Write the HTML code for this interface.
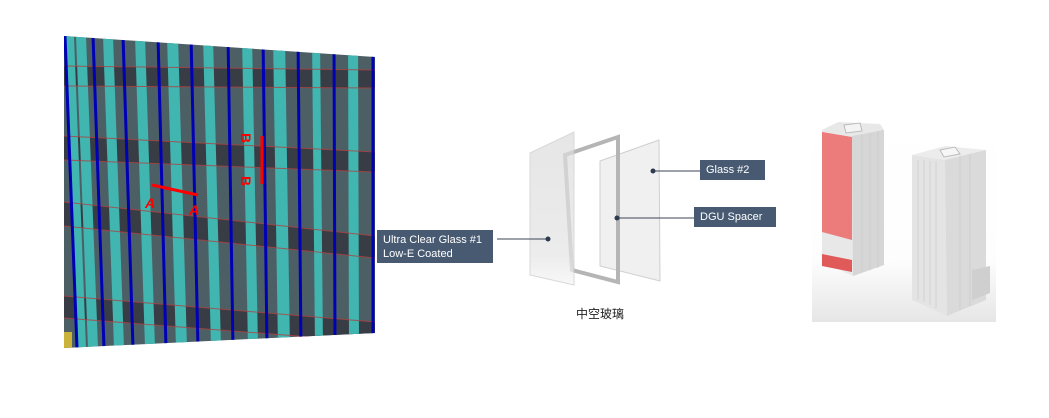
<!DOCTYPE html>
<html><head><meta charset="utf-8"><style>
html,body{margin:0;padding:0;background:#fff;width:1049px;height:418px;overflow:hidden}
.lbl{position:absolute;background:#475a72;color:#fff;font:11px "Liberation Sans",Arial,sans-serif;line-height:14px;padding:0 6px;box-sizing:border-box}
</style></head><body>
<svg width="1049" height="418" style="position:absolute;left:0;top:0" xmlns="http://www.w3.org/2000/svg">
<defs>
<clipPath id="fc"><polygon points="64,36 375,57 375,333 64,348"/></clipPath>
<linearGradient id="bg2" x1="0" y1="0" x2="0" y2="1"><stop offset="0" stop-color="#fff"/><stop offset="0.7" stop-color="#fdfdfd"/><stop offset="1" stop-color="#e6e6e6"/></linearGradient>
<linearGradient id="gl" x1="0" y1="0" x2="0" y2="1"><stop offset="0" stop-color="#dcdcdc"/><stop offset="0.8" stop-color="#e4e4e4"/><stop offset="1" stop-color="#f6f6f6"/></linearGradient>
</defs>
<g clip-path="url(#fc)">
<rect x="60" y="30" width="320" height="330" fill="#4c5f65"/>
<g fill="#383d45">
<polygon points="64,66 375,70 375,88 64,86"/>
<polygon points="64,136 375,152 375,172 64,160"/>
<polygon points="64,202 375,236 375,258 64,226"/>
<polygon points="64,296 375,322 375,342 64,318"/>
</g>
<g fill="#41b5b0">
<polygon points="66,36 74,36 86,348 78,348"/>
<polygon points="76,36 86,36 98,348 88,348"/>
<polygon points="103,36 113,36 124,348 114,348"/>
<polygon points="135,36 145,36 155,348 145,348"/>
<polygon points="167,36 178,36 187,348 176,348"/>
<polygon points="203,36 213,36 221,348 211,348"/>
<polygon points="242,36 252,36 258,348 248,348"/>
<polygon points="273,36 285,36 290,348 278,348"/>
<polygon points="312,36 320,36 323,348 315,348"/>
<polygon points="348,36 358,36 359,348 349,348"/>
</g>
<g stroke="#b04040" stroke-width="1" fill="none" opacity="0.8">
<line x1="64" y1="66" x2="375" y2="70"/><line x1="64" y1="86" x2="375" y2="88"/>
<line x1="64" y1="136" x2="375" y2="152"/><line x1="64" y1="160" x2="375" y2="172"/>
<line x1="64" y1="202" x2="375" y2="236"/><line x1="64" y1="226" x2="375" y2="258"/>
<line x1="64" y1="296" x2="375" y2="322"/><line x1="64" y1="318" x2="375" y2="342"/>
</g>
<g stroke="#0000b4" stroke-width="3">
<line x1="65" y1="36" x2="77" y2="348"/>
<line x1="93" y1="36" x2="104" y2="348"/>
<line x1="123" y1="36" x2="133" y2="348"/>
<line x1="158" y1="36" x2="166" y2="348"/>
<line x1="191" y1="36" x2="198" y2="348"/>
<line x1="228" y1="36" x2="233" y2="348"/>
<line x1="263" y1="36" x2="267" y2="348"/>
<line x1="298" y1="36" x2="301" y2="348"/>
<line x1="334" y1="36" x2="335" y2="348"/>
<line x1="373" y1="36" x2="373" y2="348"/>
</g>
<rect x="64" y="332" width="8" height="18" fill="#c9b33a"/>
</g>
<line x1="152" y1="185" x2="198" y2="195" stroke="#f00" stroke-width="3"/>
<line x1="262" y1="136" x2="262" y2="184" stroke="#f00" stroke-width="3"/>
<g fill="#f00" font-family="Liberation Sans,Arial,sans-serif" font-weight="bold" font-size="14" font-style="italic">
<text x="145" y="208">A</text><text x="189" y="215">A</text>
</g>
<g fill="#f00" font-family="Liberation Sans,Arial,sans-serif" font-weight="bold" font-size="14">
<text transform="translate(241,133) rotate(90)">B</text>
<text transform="translate(241,176) rotate(90)">B</text>
</g>
<!-- glass -->
<polygon points="600,161 659,140 660,281 600,266" fill="#f0f0f0" stroke="#cfcfcf"/>
<polygon points="565,155 618,137 618,282 572,270" fill="none" stroke="#b5b5b5" stroke-width="4"/>
<polygon points="530,153 574,132 574,285 530,275" fill="url(#gl)" stroke="#c8c8c8" opacity="0.7"/>
<line x1="497" y1="239" x2="548" y2="239" stroke="#3b4556"/>
<circle cx="548" cy="239" r="2.5" fill="#2e3a4e"/>
<line x1="617" y1="218" x2="694" y2="218" stroke="#3b4556"/>
<circle cx="617" cy="218" r="2.5" fill="#2e3a4e"/>
<line x1="653" y1="171" x2="700" y2="171" stroke="#3b4556"/>
<circle cx="653" cy="171" r="2.5" fill="#2e3a4e"/>
<text x="576" y="318" font-family="Liberation Sans,Noto Sans CJK SC,sans-serif" font-size="12" fill="#222">中空玻璃</text>
<!-- towers -->
<rect x="812" y="118" width="184" height="204" fill="url(#bg2)"/>
<polygon points="822,130 838,122 880,124 884,130 884,265 853,276 822,262" fill="#e8e8e8"/>
<polygon points="852,136 884,130 884,265 853,276" fill="#d6d6d6"/>
<polygon points="822,132 852,137 852,240 822,232" fill="#ec7b7b"/>
<polygon points="822,254 852,260 852,272 822,266" fill="#e05a5a"/>
<polygon points="844,125 860,123 862,131 846,133" fill="#f4f4f4" stroke="#bbb"/>
<polygon points="912,155 945,146 986,150 986,300 947,316 912,300" fill="#ececec"/>
<polygon points="912,155 945,160 947,316 912,300" fill="#e4e4e4"/>
<polygon points="945,160 986,150 986,300 947,316" fill="#dadada"/>
<polygon points="940,150 955,147 960,154 944,157" fill="#f6f6f6" stroke="#bbb"/>
<polygon points="972,270 990,266 990,293 972,300" fill="#cfcfcf"/>
<g stroke="#c6c6c6" stroke-width="0.6">
<line x1="918" y1="160" x2="918" y2="300"/><line x1="924" y1="160" x2="924" y2="302"/><line x1="930" y1="161" x2="930" y2="305"/><line x1="936" y1="161" x2="936" y2="308"/>
<line x1="960" y1="156" x2="960" y2="310"/><line x1="970" y1="154" x2="970" y2="306"/>
<line x1="862" y1="135" x2="862" y2="272"/><line x1="870" y1="133" x2="870" y2="270"/><line x1="878" y1="131" x2="878" y2="268"/>
</g>
</svg>
<div class="lbl" style="left:377px;top:230px;width:116px;height:33px;padding-top:3px">Ultra Clear Glass #1<br>Low-E Coated</div>
<div class="lbl" style="left:700px;top:160px;width:65px;height:20px;line-height:20px">Glass #2</div>
<div class="lbl" style="left:694px;top:207px;width:82px;height:20px;line-height:20px">DGU Spacer</div>
</body></html>
